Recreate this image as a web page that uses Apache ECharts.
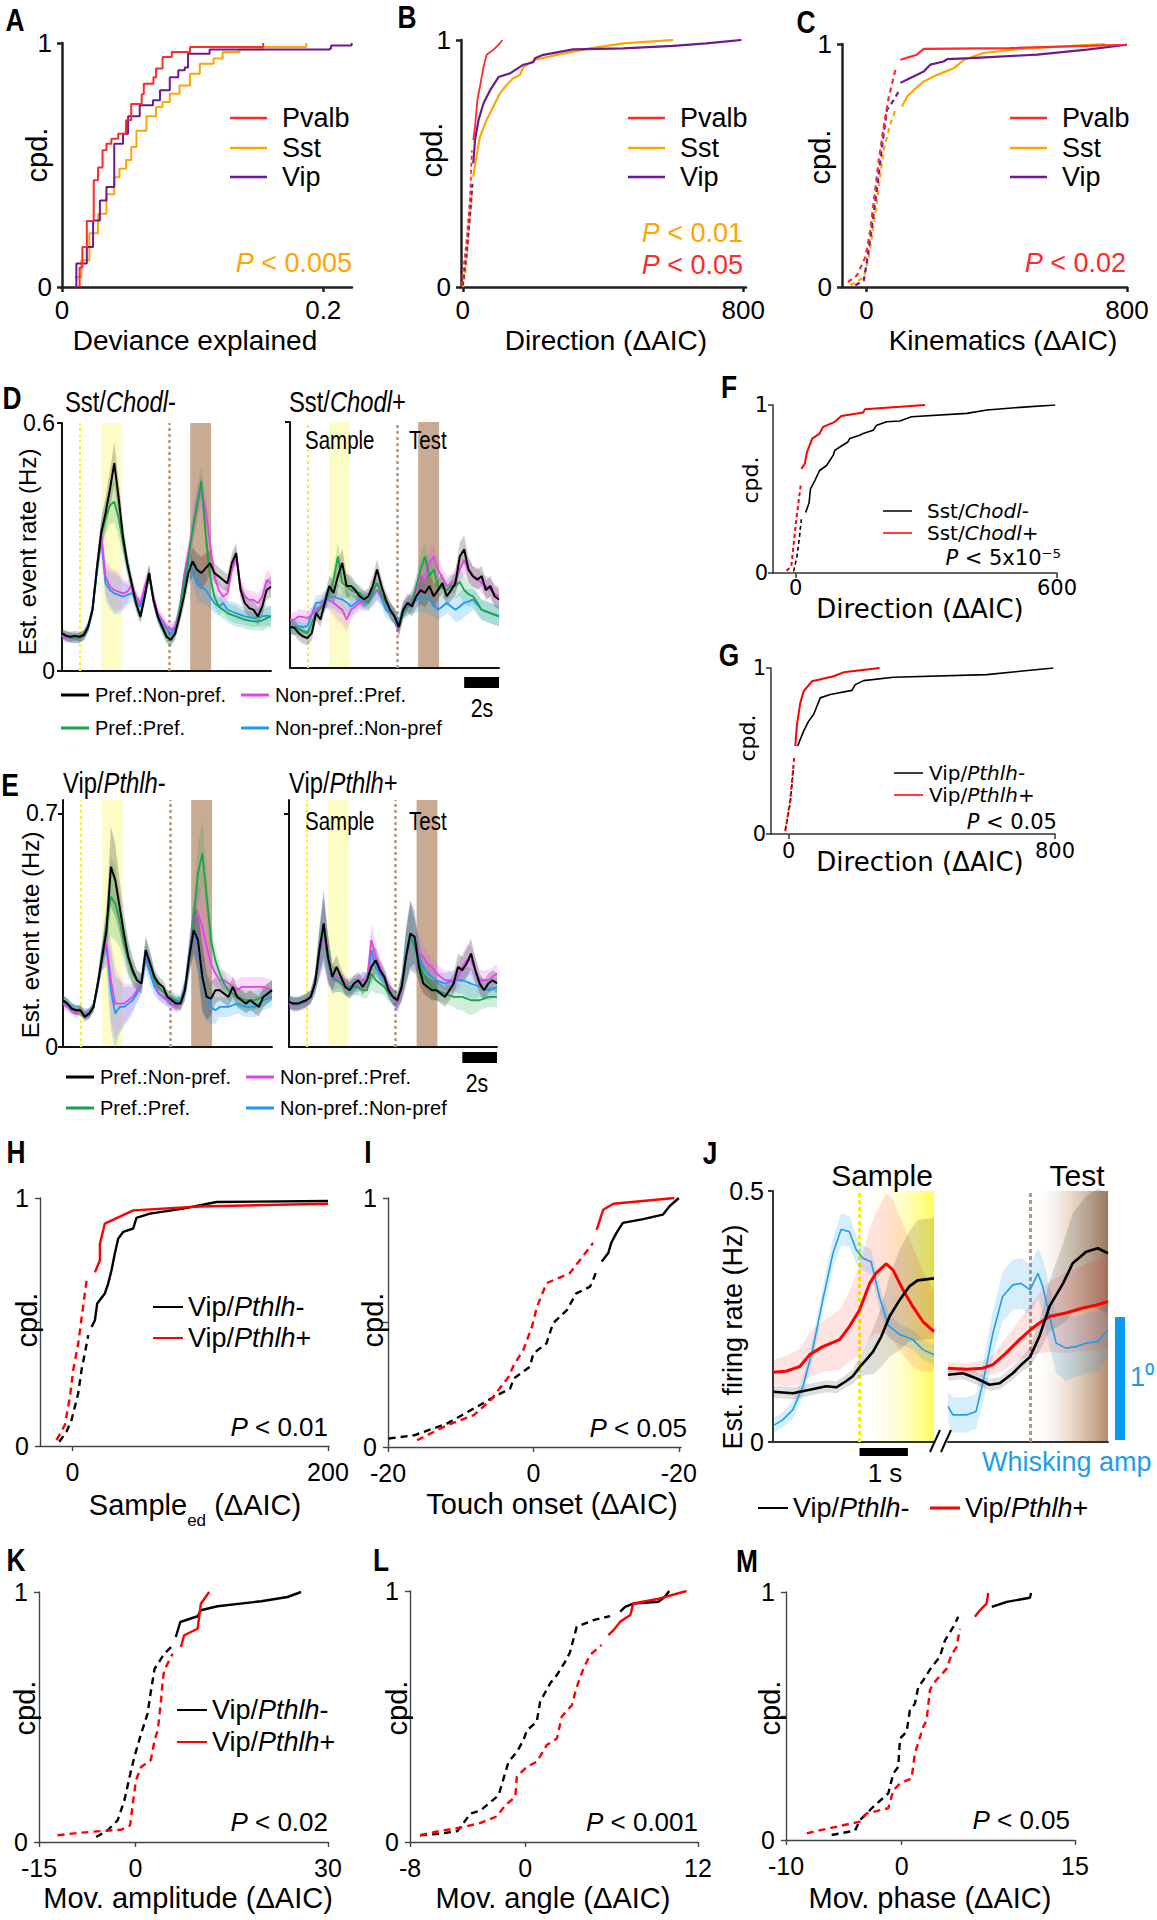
<!DOCTYPE html>
<html><head><meta charset="utf-8">
<script src="https://cdn.jsdelivr.net/npm/echarts@6/dist/echarts.min.js"></script>
<style>html,body{margin:0;padding:0;background:#fff}#c{width:1157px;height:1920px}</style>
</head><body><div id="c"></div>
<script>
// ================= DATA =================
// Panel A (Deviance explained CDFs)
const A_pvalb_x=[0.0135,0.0135,0.0156,0.019,0.0243,0.0276,0.031,0.034,0.0378,0.043,0.049,0.053,0.061,0.0626,0.07,0.072,0.077,0.084,0.098,0.153,0.154];
const A_pvalb_y=[0,0.08,0.164,0.27,0.437,0.49,0.56,0.587,0.608,0.628,0.683,0.75,0.79,0.833,0.86,0.895,0.943,0.963,0.984,0.984,1.0];
const A_sst_x=[0.0097,0.0148,0.021,0.0276,0.034,0.040,0.044,0.049,0.053,0.057,0.0646,0.072,0.077,0.0825,0.090,0.098,0.1055,0.116,0.123,0.136,0.154,0.187];
const A_sst_y=[0.04,0.11,0.22,0.30,0.38,0.45,0.485,0.52,0.574,0.64,0.70,0.738,0.758,0.792,0.826,0.874,0.915,0.936,0.963,0.973,0.984,1.0];
const A_vip_x=[0.0097,0.011,0.019,0.0238,0.029,0.034,0.040,0.0467,0.0506,0.0595,0.0697,0.075,0.0825,0.089,0.094,0.0965,0.113,0.205,0.206,0.2217];
const A_vip_y=[0,0.096,0.164,0.273,0.355,0.41,0.587,0.628,0.70,0.745,0.765,0.806,0.86,0.888,0.90,0.956,0.973,0.977,0.99,1.0];
// Panel B (Direction)
const B_pvalb_x=[-3,11,21,26,30,35,42,49,59,68,87,102,113];
const B_pvalb_y=[0.007,0.19,0.365,0.554,0.595,0.65,0.76,0.81,0.89,0.94,0.96,0.98,1.0];
const B_sst_x=[0,9.5,16,26,30,42,49,68,87,106,125,144,163,173,207,268,363,458,600];
const B_sst_y=[0,0.08,0.216,0.378,0.446,0.554,0.608,0.676,0.73,0.784,0.818,0.845,0.858,0.89,0.92,0.94,0.966,0.986,1.0];
const B_vip_x=[0,11,21,28,30,35,45,59,78,102,135,173,201,206,230,315,458,600,695,795];
const B_vip_y=[0.007,0.135,0.297,0.426,0.5,0.595,0.676,0.743,0.797,0.85,0.865,0.9,0.91,0.926,0.94,0.962,0.966,0.976,0.986,1.0];
const B_nDash=[4,4,4];
// Panel C (Kinematics)
const C_pvalb_x=[-57,-29,-3,12,23,38,53,69,89,104,155,176,442,800];
const C_pvalb_y=[0.02,0.048,0.124,0.234,0.358,0.523,0.66,0.784,0.894,0.935,0.956,0.98,0.983,0.997];
const C_sst_x=[-49,-8,7,23,38,53,74,89,109,125,145,176,217,268,299,360,473,733];
const C_sst_y=[0.007,0.04,0.124,0.26,0.413,0.564,0.674,0.729,0.743,0.784,0.81,0.846,0.873,0.9,0.935,0.963,0.98,1.0];
const C_vip_x=[-34,-8,2,17,33,48,63,84,99,104,135,176,196,237,248,319,524,677,800];
const C_vip_y=[0.007,0.027,0.11,0.248,0.413,0.578,0.729,0.77,0.805,0.84,0.86,0.887,0.915,0.928,0.938,0.942,0.956,0.977,0.997];
const C_nDash=[9,8,9];
// Panels D/E time course (s)
const T=[0,0.25,0.5,0.75,1,1.25,1.5,1.75,2,2.25,2.5,2.75,3,3.25,3.5,3.75,4,4.25,4.5,4.75,5,5.25,5.5,5.75,6,6.25,6.5,6.75,7,7.25,7.5,7.75,8,8.25,8.5,8.75,9,9.25,9.5,9.75,10,10.25,10.5,10.75,11,11.25,11.5,11.75,12];
const eventCue=1.0, sampleWin=[2.25,3.43], testCue=6.15, testWin=[7.36,8.56];
// D left: Sst/Chodl-
const DL_prefNon=[0.091,0.085,0.083,0.085,0.083,0.087,0.107,0.148,0.245,0.334,0.382,0.439,0.503,0.42,0.325,0.26,0.212,0.164,0.132,0.18,0.237,0.172,0.132,0.107,0.083,0.075,0.091,0.132,0.18,0.237,0.265,0.245,0.237,0.249,0.261,0.237,0.229,0.22,0.212,0.261,0.285,0.196,0.164,0.152,0.148,0.132,0.156,0.196,0.204];
const DL_prefPref=[0.09,0.085,0.08,0.08,0.08,0.085,0.105,0.145,0.24,0.33,0.37,0.40,0.41,0.37,0.31,0.255,0.21,0.165,0.13,0.18,0.235,0.17,0.13,0.105,0.085,0.078,0.092,0.148,0.212,0.27,0.34,0.40,0.46,0.33,0.23,0.18,0.156,0.148,0.14,0.136,0.132,0.128,0.124,0.122,0.12,0.12,0.122,0.128,0.132];
const DL_nonPref=[0.085,0.08,0.08,0.078,0.078,0.085,0.105,0.15,0.25,0.33,0.229,0.204,0.196,0.192,0.188,0.192,0.208,0.18,0.164,0.204,0.237,0.18,0.14,0.124,0.107,0.099,0.107,0.148,0.229,0.285,0.342,0.406,0.438,0.39,0.31,0.229,0.196,0.18,0.188,0.245,0.277,0.204,0.18,0.172,0.172,0.164,0.18,0.22,0.212];
const DL_nonNon=[0.088,0.082,0.082,0.08,0.08,0.087,0.107,0.15,0.25,0.32,0.212,0.196,0.188,0.184,0.18,0.184,0.188,0.172,0.156,0.196,0.237,0.172,0.132,0.115,0.103,0.09,0.107,0.148,0.204,0.26,0.245,0.212,0.204,0.196,0.18,0.164,0.156,0.164,0.148,0.144,0.14,0.136,0.132,0.13,0.128,0.13,0.132,0.134,0.132];
const DL_sem=[0.012,0.012,0.012,0.012,0.012,0.012,0.012,0.015,0.025,0.035,0.04,0.045,0.05,0.045,0.035,0.025,0.02,0.018,0.015,0.018,0.02,0.015,0.015,0.015,0.015,0.015,0.015,0.02,0.025,0.03,0.035,0.04,0.04,0.035,0.03,0.025,0.022,0.022,0.022,0.025,0.025,0.022,0.022,0.022,0.022,0.022,0.025,0.025,0.025];
// D right: Sst/Chodl+
const DR_prefNon=[0.10,0.098,0.085,0.077,0.073,0.085,0.134,0.118,0.159,0.2,0.183,0.224,0.256,0.2,0.2,0.19,0.175,0.167,0.175,0.2,0.24,0.2,0.167,0.142,0.126,0.1,0.142,0.159,0.15,0.175,0.19,0.183,0.2,0.175,0.19,0.207,0.175,0.19,0.207,0.272,0.289,0.24,0.224,0.215,0.224,0.19,0.2,0.175,0.167];
const DR_prefPref=[0.102,0.1,0.095,0.09,0.085,0.11,0.134,0.145,0.159,0.18,0.215,0.272,0.207,0.2,0.19,0.185,0.183,0.17,0.159,0.185,0.207,0.18,0.159,0.14,0.126,0.1,0.134,0.148,0.159,0.2,0.24,0.272,0.224,0.24,0.2,0.195,0.19,0.2,0.2,0.21,0.19,0.18,0.175,0.16,0.142,0.138,0.134,0.13,0.126];
const DR_nonPref=[0.118,0.118,0.126,0.124,0.122,0.13,0.142,0.15,0.167,0.165,0.159,0.15,0.142,0.118,0.142,0.15,0.159,0.162,0.167,0.18,0.191,0.175,0.159,0.14,0.126,0.093,0.142,0.155,0.167,0.19,0.224,0.224,0.256,0.272,0.24,0.22,0.2,0.205,0.215,0.24,0.264,0.24,0.224,0.22,0.207,0.2,0.191,0.18,0.175];
const DR_nonNon=[0.102,0.1,0.102,0.1,0.102,0.13,0.159,0.16,0.167,0.17,0.175,0.17,0.167,0.16,0.15,0.158,0.167,0.16,0.159,0.175,0.191,0.17,0.142,0.135,0.126,0.11,0.142,0.15,0.159,0.165,0.175,0.17,0.167,0.155,0.142,0.15,0.159,0.15,0.142,0.15,0.159,0.162,0.167,0.155,0.142,0.138,0.134,0.13,0.126];
const DR_sem=[0.018,0.018,0.018,0.018,0.018,0.018,0.018,0.018,0.02,0.025,0.03,0.035,0.035,0.03,0.025,0.02,0.02,0.02,0.02,0.025,0.025,0.02,0.02,0.02,0.02,0.02,0.02,0.022,0.025,0.03,0.035,0.035,0.035,0.03,0.025,0.025,0.025,0.025,0.03,0.035,0.035,0.03,0.025,0.025,0.025,0.025,0.025,0.025,0.025];
// E left: Vip/Pthlh-
const EL_prefNon=[0.14,0.13,0.115,0.11,0.11,0.09,0.10,0.12,0.19,0.27,0.35,0.54,0.50,0.42,0.34,0.27,0.23,0.20,0.19,0.29,0.25,0.21,0.19,0.18,0.15,0.14,0.13,0.13,0.17,0.27,0.35,0.32,0.21,0.15,0.145,0.17,0.17,0.16,0.15,0.18,0.15,0.14,0.13,0.14,0.13,0.12,0.15,0.16,0.17];
const EL_prefPref=[0.14,0.13,0.115,0.11,0.11,0.095,0.1,0.12,0.19,0.28,0.37,0.45,0.43,0.38,0.31,0.26,0.22,0.2,0.19,0.29,0.25,0.2,0.18,0.165,0.15,0.145,0.14,0.13,0.17,0.26,0.38,0.52,0.58,0.45,0.32,0.26,0.22,0.19,0.17,0.16,0.15,0.145,0.14,0.14,0.14,0.145,0.15,0.16,0.17];
const EL_nonPref=[0.13,0.12,0.11,0.1,0.11,0.1,0.1,0.12,0.19,0.27,0.31,0.2,0.13,0.13,0.13,0.14,0.15,0.17,0.19,0.28,0.25,0.2,0.16,0.15,0.14,0.13,0.12,0.13,0.17,0.27,0.38,0.40,0.36,0.3,0.25,0.22,0.2,0.2,0.19,0.18,0.17,0.18,0.18,0.18,0.18,0.18,0.18,0.175,0.17];
const EL_nonNon=[0.14,0.13,0.12,0.11,0.11,0.1,0.1,0.12,0.19,0.27,0.3,0.17,0.1,0.12,0.12,0.13,0.14,0.16,0.19,0.27,0.22,0.18,0.16,0.15,0.14,0.135,0.13,0.14,0.18,0.27,0.35,0.3,0.2,0.15,0.12,0.11,0.12,0.12,0.12,0.125,0.13,0.125,0.12,0.12,0.12,0.13,0.14,0.145,0.15];
const EL_sem=[0.015,0.015,0.015,0.015,0.015,0.015,0.015,0.015,0.025,0.04,0.06,0.12,0.11,0.08,0.06,0.05,0.04,0.03,0.03,0.04,0.035,0.025,0.02,0.02,0.02,0.02,0.02,0.02,0.03,0.05,0.07,0.09,0.1,0.07,0.05,0.04,0.03,0.03,0.03,0.03,0.03,0.03,0.03,0.03,0.03,0.03,0.03,0.03,0.03];
// E right: Vip/Pthlh+
const ER_prefNon=[0.135,0.13,0.13,0.135,0.14,0.15,0.19,0.29,0.37,0.27,0.21,0.24,0.21,0.18,0.17,0.19,0.2,0.18,0.2,0.24,0.26,0.23,0.21,0.17,0.15,0.14,0.18,0.27,0.34,0.33,0.24,0.19,0.18,0.17,0.17,0.16,0.15,0.17,0.19,0.24,0.23,0.25,0.28,0.23,0.19,0.17,0.19,0.2,0.19];
const ER_prefPref=[0.135,0.13,0.13,0.13,0.14,0.15,0.19,0.28,0.36,0.26,0.21,0.2,0.19,0.18,0.18,0.18,0.18,0.17,0.17,0.22,0.2,0.19,0.18,0.16,0.15,0.14,0.18,0.26,0.33,0.3,0.25,0.22,0.2,0.18,0.17,0.165,0.16,0.155,0.15,0.15,0.15,0.145,0.14,0.14,0.14,0.145,0.15,0.15,0.15];
const ER_nonPref=[0.13,0.125,0.125,0.13,0.135,0.15,0.19,0.27,0.34,0.26,0.2,0.21,0.2,0.19,0.18,0.19,0.19,0.2,0.2,0.32,0.27,0.24,0.21,0.18,0.15,0.13,0.17,0.27,0.33,0.3,0.28,0.27,0.25,0.24,0.22,0.21,0.2,0.2,0.19,0.21,0.24,0.26,0.26,0.23,0.2,0.2,0.2,0.21,0.22];
const ER_nonNon=[0.135,0.13,0.13,0.135,0.14,0.15,0.19,0.28,0.35,0.26,0.2,0.2,0.19,0.18,0.17,0.18,0.19,0.2,0.2,0.29,0.24,0.22,0.2,0.17,0.15,0.13,0.18,0.28,0.34,0.31,0.27,0.24,0.22,0.21,0.2,0.195,0.19,0.195,0.2,0.2,0.2,0.195,0.19,0.185,0.18,0.175,0.17,0.175,0.18];
const ER_sem=[0.02,0.02,0.02,0.02,0.02,0.02,0.03,0.07,0.1,0.07,0.04,0.035,0.025,0.025,0.025,0.025,0.025,0.025,0.025,0.05,0.04,0.03,0.025,0.025,0.025,0.025,0.04,0.08,0.1,0.08,0.05,0.03,0.03,0.03,0.03,0.03,0.03,0.03,0.03,0.04,0.04,0.045,0.045,0.04,0.03,0.03,0.03,0.03,0.03];
// Panel F
const F_neg_x=[-4.6,3,9,13,23,31,34,44,55,71,86,90,105,120,124,147,155,178,186,209,239,266,393,439,515,596];
const F_neg_y=[0.01,0.1,0.22,0.32,0.36,0.42,0.5,0.55,0.61,0.64,0.70,0.73,0.756,0.78,0.80,0.82,0.83,0.85,0.88,0.90,0.905,0.93,0.95,0.97,0.986,1.0];
const F_pos_x=[-21,-10,1.5,11.5,13,21,26,38,55,63,90,105,155,159,297];
const F_pos_y=[0.014,0.04,0.32,0.52,0.62,0.65,0.72,0.80,0.83,0.87,0.90,0.935,0.955,0.974,1.0];
const F_nDash=[4,4];
// Panel G
const G_neg_x=[-10,5,15,27,45,60,75,95,125,190,200,225,315,595,695,795];
const G_neg_y=[0.026,0.19,0.41,0.53,0.62,0.68,0.72,0.82,0.84,0.865,0.9,0.924,0.944,0.96,0.98,1.0];
const G_pos_x=[-10,5,17,20,25,35,45,70,135,165,273];
const G_pos_y=[0.016,0.21,0.47,0.53,0.66,0.79,0.86,0.92,0.95,0.974,1.0];
const G_nDash=[3,3];
// Panel H
const H_neg_x=[-10.4,-4.7,-0.8,4.4,7,9.6,12.3,14.9,17.5,19.3,25.3,27.9,30.5,33.1,35.7,39.6,47.5,50,60.5,86.6,112.7,200];
const H_neg_y=[0.017,0.058,0.105,0.212,0.306,0.373,0.447,0.48,0.507,0.575,0.615,0.655,0.709,0.776,0.836,0.863,0.877,0.92,0.937,0.957,0.984,0.988];
const H_pos_x=[-12.5,-6,-2,0.5,4.4,11,17.5,21.4,21.4,25.3,47.5,99.6,200];
const H_pos_y=[0.024,0.085,0.2,0.306,0.413,0.668,0.70,0.749,0.816,0.897,0.95,0.966,0.977];
const H_nDash=[7,6];
// Panel I
const I_neg_x=[-19.9,-16.4,-11.9,-7.8,-5.5,-3.2,-2.7,-0.5,0,1.8,2.7,4.6,5.9,7.8,8.4,8.7,9.4,10.3,10.7,11.4,12.3,15.1,17.8,18.7,20];
const I_neg_y=[0.034,0.047,0.094,0.161,0.2,0.235,0.275,0.322,0.376,0.416,0.497,0.55,0.617,0.644,0.685,0.711,0.745,0.779,0.819,0.859,0.9,0.915,0.933,0.966,1.0];
const I_pos_x=[-16,-11.9,-8.2,-5.9,-3.4,-2.7,-1.4,-0.2,0.5,1.8,5,8.2,8.7,9.6,11,19.4];
const I_pos_y=[0.027,0.087,0.128,0.188,0.282,0.329,0.389,0.483,0.564,0.658,0.698,0.819,0.872,0.953,0.977,1.0];
const I_nDash=[16,12];
const I_xTickVals=[-20,0,20], I_xTickText=['-20','0','-20'];
// Panel J (Est. firing rate around sample / test)
const JL_neg_t=[-1.79,-1.38,-1.03,-0.69,-0.48,-0.28,-0.14,0,0.14,0.28,0.45,0.62,0.83,1.03,1.2,1.54];
const JL_neg_v=[0.1,0.097,0.104,0.111,0.109,0.121,0.131,0.149,0.164,0.18,0.21,0.25,0.283,0.31,0.322,0.326];
const JL_neg_e=[0.012,0.012,0.012,0.012,0.012,0.013,0.015,0.02,0.03,0.045,0.06,0.08,0.1,0.11,0.12,0.12];
const JL_pos_t=[-1.79,-1.52,-1.24,-1.03,-0.76,-0.41,-0.21,0,0.21,0.34,0.55,0.69,0.9,1.1,1.31,1.54];
const JL_pos_v=[0.139,0.141,0.15,0.174,0.19,0.204,0.23,0.263,0.316,0.336,0.355,0.343,0.303,0.27,0.24,0.22];
const JL_pos_e=[0.025,0.03,0.035,0.045,0.05,0.06,0.07,0.09,0.11,0.12,0.14,0.14,0.13,0.12,0.1,0.08];
const JL_whisk_t=[-1.76,-1.59,-1.38,-1.17,-0.97,-0.76,-0.55,-0.38,-0.21,-0.07,0.07,0.24,0.41,0.59,0.83,1.1,1.31,1.54];
const JL_whisk_v=[0.034,0.044,0.064,0.111,0.184,0.283,0.376,0.424,0.419,0.383,0.366,0.359,0.29,0.233,0.214,0.204,0.184,0.174];
const JL_whisk_e=[0.015,0.015,0.018,0.02,0.022,0.025,0.03,0.032,0.03,0.028,0.025,0.025,0.025,0.025,0.02,0.02,0.02,0.02];
const JR_neg_t=[-1.7,-1.39,-1.12,-0.84,-0.63,-0.36,-0.15,0,0.19,0.4,0.68,0.88,1.16,1.4,1.61];
const JR_neg_v=[0.134,0.137,0.127,0.114,0.117,0.137,0.157,0.17,0.21,0.27,0.316,0.356,0.379,0.386,0.376];
const JR_neg_e=[0.012,0.012,0.012,0.012,0.012,0.013,0.015,0.02,0.03,0.05,0.08,0.1,0.11,0.12,0.12];
const JR_pos_t=[-1.7,-1.32,-0.98,-0.77,-0.5,-0.22,0,0.19,0.4,0.74,1.09,1.37,1.61];
const JR_pos_v=[0.147,0.145,0.147,0.154,0.177,0.204,0.223,0.237,0.25,0.257,0.267,0.273,0.28];
const JR_pos_e=[0.012,0.012,0.015,0.02,0.03,0.04,0.05,0.06,0.07,0.08,0.085,0.09,0.09];
const JR_whisk_t=[-1.7,-1.6,-1.32,-1.12,-0.98,-0.77,-0.57,-0.36,-0.19,0,0.16,0.26,0.4,0.54,0.74,0.95,1.16,1.4,1.61];
const JR_whisk_v=[0.071,0.054,0.054,0.061,0.117,0.217,0.29,0.313,0.316,0.303,0.336,0.31,0.25,0.197,0.187,0.19,0.197,0.2,0.223];
const JR_whisk_e=[0.03,0.035,0.035,0.035,0.04,0.045,0.05,0.05,0.05,0.05,0.05,0.055,0.06,0.06,0.065,0.06,0.06,0.06,0.05];
// Panel K
const K_neg_x=[-6.1,-4.3,-2.75,-1.7,-0.9,-0.16,0.9,1.9,2.4,3,4.5,6.1,6.3,7,9.7,10.2,12.8,19.6,23.7,25.8];
const K_neg_y=[0.02,0.047,0.087,0.167,0.26,0.34,0.433,0.513,0.6,0.693,0.753,0.793,0.82,0.88,0.903,0.927,0.943,0.963,0.98,1.0];
const K_pos_x=[-12.1,-9,-5.3,-2.2,-0.8,-0.4,0.1,0.9,2.4,3,3.5,4,4.3,4.5,5.8,7.1,7.6,9.7,10.2,11.5];
const K_pos_y=[0.027,0.036,0.044,0.049,0.067,0.153,0.247,0.3,0.327,0.407,0.447,0.567,0.653,0.687,0.753,0.78,0.827,0.853,0.953,1.0];
const K_nDash=[12,15];
// Panel L
const L_neg_x=[-7.3,-5.9,-4.7,-3.8,-3.1,-1.85,-1.16,-0.58,-0.12,0.12,0.8,1.04,1.73,2.2,2.77,3.1,3.58,4.74,5.9,6.6,6.94,7.5,9.25,9.7,10];
const L_neg_y=[0.027,0.033,0.044,0.113,0.126,0.186,0.319,0.359,0.406,0.445,0.479,0.559,0.632,0.665,0.718,0.754,0.858,0.884,0.9,0.918,0.937,0.95,0.957,0.977,1.0];
const L_pos_x=[-7.3,-5.9,-4.5,-3.1,-1.97,-1.39,-0.69,-0.58,0.12,0.8,1.5,2.2,2.54,3.24,3.58,4.05,4.5,5.3,5.78,6.13,6.6,7.3,7.5,9.1,11.2];
const L_pos_y=[0.027,0.044,0.057,0.076,0.102,0.146,0.18,0.26,0.3,0.319,0.386,0.412,0.5,0.545,0.618,0.691,0.745,0.785,0.824,0.844,0.878,0.904,0.95,0.967,1.0];
const L_nDash=[19,18];
// Panel M
const M_neg_x=[-6.05,-4.03,-3.6,-2.45,-1.15,-0.72,-0.29,-0.14,0.43,0.72,1.15,1.44,1.87,2.6,3.3,3.75,4.47,4.9,7.8,9.1,11.1,11.2];
const M_neg_y=[0.02,0.038,0.08,0.134,0.188,0.268,0.295,0.409,0.436,0.523,0.55,0.617,0.644,0.698,0.738,0.805,0.859,0.9,0.94,0.96,0.977,0.996];
const M_pos_x=[-8.2,-5.9,-3.6,-3.03,-1.15,-0.72,-0.14,0.86,1.15,1.87,2.16,2.45,2.74,3.9,4.3,4.76,5.04,6.34,6.77,7.35,7.5];
const M_pos_y=[0.027,0.051,0.074,0.107,0.128,0.2,0.228,0.248,0.349,0.456,0.483,0.604,0.631,0.691,0.745,0.779,0.852,0.9,0.926,0.953,0.996];
const M_nDash=[18,17];

// ================= BUILD =================
const FS='"Liberation Sans", Arial, sans-serif';
const FD='"DejaVu Sans", Verdana, sans-serif';
const C_PV='#ff2a2a', C_SST='#ffa500', C_VIP='#6a1b8f';
const C_K='#000', C_G='#18a54a', C_MG='#e543ea', C_BL='#1b9cf2', C_RED='#ff0000';

const grids=[], xAxes=[], yAxes=[], series=[], legends=[];
function panel(p){
  const i=grids.length;
  grids.push({left:p.l, top:p.t, width:p.w, height:p.h, containLabel:false, outerBoundsMode:'none'});
  const ls={color:p.ac||'#222', width:p.aw||2};
  const lab=(show,vals,fmt,m)=>({show:!!show, customValues:vals||[], formatter:fmt, margin:m, color:'#000', fontFamily:p.font, fontSize:p.fs});
  xAxes.push({gridIndex:i, type:'value', min:p.xr[0], max:p.xr[1],
    axisLine:{show:p.xLine!==false, onZero:false, lineStyle:ls},
    axisTick:{show:!!p.xt, customValues:p.xt||[], length:5, lineStyle:ls},
    axisLabel:lab(p.xl,p.xl,p.xf,p.xm==null?10:p.xm), splitLine:{show:false}, axisPointer:{show:false}});
  yAxes.push({gridIndex:i, type:'value', min:p.yr[0], max:p.yr[1],
    axisLine:{show:p.yLine!==false, onZero:false, lineStyle:ls},
    axisTick:{show:!!p.yt, customValues:p.yt||[], length:5, lineStyle:ls},
    axisLabel:lab(p.yl,p.yl,p.yf,p.ym==null?10:p.ym), splitLine:{show:false}, axisPointer:{show:false}});
  return i;
}
function cdf(gi,name,xs,ys,nDash,color,width,dash,step){
  const pts=xs.map((x,k)=>[x,ys[k]]);
  const base={type:'line',name,xAxisIndex:gi,yAxisIndex:gi,showSymbol:false,symbol:'none',silent:true,z:3,itemStyle:{color},emphasis:{disabled:true},animation:false};
  if(nDash>0) series.push(Object.assign({},base,{data:pts.slice(0,nDash),lineStyle:{color,width,type:dash}}));
  series.push(Object.assign({},base,{data:pts.slice(nDash),lineStyle:{color,width,type:'solid'},step:step||false}));
}
function band(gi,t,v,e,fill){
  series.push({type:'custom',xAxisIndex:gi,yAxisIndex:gi,silent:true,z:2,animation:false,
    data:t.map((x,k)=>[x,v[k]]),
    renderItem:(params,api)=>{
      if(params.dataIndex!==0) return null;
      const up=[],lo=[];
      for(let k=0;k<t.length;k++){up.push(api.coord([t[k],v[k]+e[k]]));lo.push(api.coord([t[k],v[k]-e[k]]));}
      return {type:'polygon',shape:{points:up.concat(lo.reverse())},style:{fill,stroke:null}};
    }});
}
function trace(gi,name,t,v,color,width){
  series.push({type:'line',name,xAxisIndex:gi,yAxisIndex:gi,data:t.map((x,k)=>[x,v[k]]),showSymbol:false,symbol:'none',
    lineStyle:{color,width},itemStyle:{color},z:3,silent:true,emphasis:{disabled:true},animation:false});
}
function events(gi,lines,areas){
  series.push({type:'line',xAxisIndex:gi,yAxisIndex:gi,data:[],silent:true,z:1,animation:false,
    markLine:{silent:true,z:1,symbol:['none','none'],label:{show:false},animation:false,
      data:lines.map(l=>({xAxis:l.x,lineStyle:{color:l.c,width:l.w,type:l.type}}))},
    markArea:{silent:true,z:0,animation:false,label:{show:false},
      data:areas.map(a=>[{xAxis:a.x0,itemStyle:{color:a.c,opacity:1}},{xAxis:a.x1}])}});
}
function leg(name,left,cy,w,h,gap,font,fs){
  legends.push({data:[name],left,top:cy-fs/2,padding:0,icon:'rect',itemWidth:w,itemHeight:h,selectedMode:false,
    itemStyle:{borderWidth:0},
    formatter:(n)=>n.replace(/(Chodl|Pthlh)/,'{i|$1}'),
    textStyle:{color:'#000',fontFamily:font,fontSize:fs,padding:[0,0,0,Math.max(gap-5,0)],
      rich:{i:{fontStyle:'italic',fontFamily:font,fontSize:fs,color:'#000'}}}});
}

// ---- A
const gA=panel({l:62,t:43,w:290,h:244,xr:[0,0.222],yr:[0,1],xt:[0,0.2],xl:[0,0.2],yt:[0,1],yl:[0,1],font:FS,fs:26,ac:'#222',aw:2.5});
cdf(gA,'Sst',A_sst_x,A_sst_y,0,C_SST,2,null,'end');
cdf(gA,'Vip',A_vip_x,A_vip_y,0,C_VIP,2,null,'end');
cdf(gA,'Pvalb',A_pvalb_x,A_pvalb_y,0,C_PV,2,null,'end');
// ---- B
const gB=panel({l:461,t:40,w:285,h:247,xr:[-5,808],yr:[0,1],xt:[0,800],xl:[0,800],yt:[0,1],yl:[0,1],font:FS,fs:26,ac:'#222',aw:2.5});
cdf(gB,'Sst',B_sst_x,B_sst_y,B_nDash[1],C_SST,2.2,[4,3]);
cdf(gB,'Vip',B_vip_x,B_vip_y,B_nDash[2],C_VIP,2.2,[4,3]);
cdf(gB,'Pvalb',B_pvalb_x,B_pvalb_y,B_nDash[0],C_PV,1.8,[4,3]);
// ---- C
const gC=panel({l:842,t:44,w:285,h:243,xr:[-75,800],yr:[0,1],xt:[0,800],xl:[0,800],yt:[0,1],yl:[0,1],font:FS,fs:26,ac:'#222',aw:2.5});
cdf(gC,'Sst',C_sst_x,C_sst_y,C_nDash[1],C_SST,2.2,[5,4]);
cdf(gC,'Vip',C_vip_x,C_vip_y,C_nDash[2],C_VIP,2.2,[5,4]);
cdf(gC,'Pvalb',C_pvalb_x,C_pvalb_y,C_nDash[0],C_PV,2.2,[5,4]);
// ---- D / E
const evLines=[{x:eventCue,c:'#f4f13a',w:2.2,type:[3,3]},{x:testCue,c:'#b8977c',w:2.5,type:[3,3]}];
const evAreas=[{x0:sampleWin[0],x1:sampleWin[1],c:'#fcfcc6'},{x0:testWin[0],x1:testWin[1],c:'#c9aa93'}];
function tracePanel(gi,k,g,m,b,e){
  events(gi,evLines,evAreas);
  band(gi,T,b,e,'rgba(27,156,242,0.22)');
  band(gi,T,m,e,'rgba(229,67,234,0.2)');
  band(gi,T,g,e,'rgba(24,165,74,0.2)');
  band(gi,T,k,e,'rgba(0,0,0,0.2)');
  trace(gi,'Non-pref.:Non-pref',T,b,C_BL,1.8);
  trace(gi,'Non-pref.:Pref.',T,m,C_MG,1.8);
  trace(gi,'Pref.:Pref.',T,g,C_G,1.8);
  trace(gi,'Pref.:Non-pref.',T,k,C_K,2);
}
const gDL=panel({l:62,t:423,w:209,h:248,xr:[0,12],yr:[0,0.6],yt:[0,0.6],yl:[0,0.6],font:FS,fs:23,ac:'#111',aw:2,ym:7});
tracePanel(gDL,DL_prefNon,DL_prefPref,DL_nonPref,DL_nonNon,DL_sem);
const gDR=panel({l:290,t:422,w:209,h:246,xr:[0,12],yr:[0,0.6],yt:[0.6],font:FS,fs:23,ac:'#111',aw:2});
tracePanel(gDR,DR_prefNon,DR_prefPref,DR_nonPref,DR_nonNon,DR_sem);
const gEL=panel({l:63,t:800,w:209,h:247,xr:[0,12],yr:[0,0.74],yt:[0,0.7],yl:[0,0.7],font:FS,fs:23,ac:'#111',aw:2,ym:5});
tracePanel(gEL,EL_prefNon,EL_prefPref,EL_nonPref,EL_nonNon,EL_sem);
const gER=panel({l:289,t:800,w:208,h:247,xr:[0,12],yr:[0,0.74],yt:[0.7],font:FS,fs:23,ac:'#111',aw:2});
tracePanel(gER,ER_prefNon,ER_prefPref,ER_nonPref,ER_nonNon,ER_sem);
// ---- F
const gF=panel({l:773,t:405,w:284,h:168,xr:[-52,600],yr:[0,1],xt:[0,600],xl:[0,600],yt:[0,1],yl:[0,1],font:FD,fs:21,ac:'#333',aw:1.5,xm:4,ym:5});
cdf(gF,'Sst/Chodl-',F_neg_x,F_neg_y,F_nDash[0],'#000',1.6,[4,3]);
cdf(gF,'Sst/Chodl+',F_pos_x,F_pos_y,F_nDash[1],C_RED,2,[4,3]);
// ---- G
const gG=panel({l:771,t:668,w:284,h:166,xr:[-53,800],yr:[0,1],xt:[0,800],xl:[0,800],yt:[0,1],yl:[0,1],font:FD,fs:21,ac:'#333',aw:1.5,xm:6,ym:5});
cdf(gG,'Vip/Pthlh-',G_neg_x,G_neg_y,G_nDash[0],'#000',1.6,[4,3]);
cdf(gG,'Vip/Pthlh+',G_pos_x,G_pos_y,G_nDash[1],C_RED,2,[4,3]);
// ---- H
const hm={yr:[0,1],yt:[0,0.5,1],yl:[0,1],font:FS,fs:25,ac:'#444',aw:1.4,xm:13,ym:11};
const gH=panel(Object.assign({l:40,t:1198,w:289,h:248,xr:[-25.5,200.8],xt:[0,200],xl:[0,200]},hm));
cdf(gH,'Vip/Pthlh-',H_neg_x,H_neg_y,H_nDash[0],'#000',2.4,[7,5]);
cdf(gH,'Vip/Pthlh+',H_pos_x,H_pos_y,H_nDash[1],C_RED,2.4,[7,5]);
// ---- I
const gI=panel(Object.assign({l:388,t:1198,w:293,h:249,xr:[-20,20.3],xt:I_xTickVals,xl:I_xTickVals,
  xf:(v)=>{const k=I_xTickVals.indexOf(v);return k<0?'':I_xTickText[k];}},hm));
cdf(gI,'Vip/Pthlh-',I_neg_x,I_neg_y,I_nDash[0],'#000',2.4,[7,5]);
cdf(gI,'Vip/Pthlh+',I_pos_x,I_pos_y,I_nDash[1],C_RED,2.4,[7,5]);
// ---- J
const gJL=panel({l:773,t:1191,w:161,h:251,xr:[-1.79,1.54],yr:[0,0.5],yt:[0,0.5],yl:[0,0.5],font:FS,fs:25,ac:'#333',aw:2,ym:9});
const gJR=panel({l:948,t:1191,w:160,h:251,xr:[-1.7,1.61],yr:[0,0.5],yLine:false,font:FS,fs:25,ac:'#333',aw:2});
events(gJL,[{x:0,c:'#f5f000',w:3,type:[4,3]}],[{x0:0,x1:1.54,c:{type:'linear',x:0,y:0,x2:1,y2:0,colorStops:[{offset:0,color:'rgba(255,255,255,0)'},{offset:0.45,color:'rgba(255,252,205,0.7)'},{offset:1,color:'rgba(255,255,90,1)'}]}}]);
events(gJR,[{x:0,c:'#b8977c',w:3,type:[4,3]}],[{x0:0,x1:1.61,c:{type:'linear',x:0,y:0,x2:1,y2:0,colorStops:[{offset:0,color:'rgba(255,255,255,0)'},{offset:0.45,color:'rgba(232,214,196,0.7)'},{offset:1,color:'rgba(178,138,106,1)'}]}}]);
band(gJL,JL_whisk_t,JL_whisk_v,JL_whisk_e,'rgba(30,160,240,0.18)');
band(gJL,JL_pos_t,JL_pos_v,JL_pos_e,'rgba(255,60,60,0.15)');
band(gJL,JL_neg_t,JL_neg_v,JL_neg_e,'rgba(0,0,0,0.13)');
band(gJR,JR_whisk_t,JR_whisk_v,JR_whisk_e,'rgba(30,160,240,0.18)');
band(gJR,JR_pos_t,JR_pos_v,JR_pos_e,'rgba(255,60,60,0.15)');
band(gJR,JR_neg_t,JR_neg_v,JR_neg_e,'rgba(0,0,0,0.13)');
trace(gJL,'Whisking amplitude',JL_whisk_t,JL_whisk_v,'#1e9ee8',1.6);
trace(gJL,'Vip/Pthlh+',JL_pos_t,JL_pos_v,C_RED,3);
trace(gJL,'Vip/Pthlh-',JL_neg_t,JL_neg_v,'#000',2.6);
trace(gJR,'Whisking amplitude',JR_whisk_t,JR_whisk_v,'#1e9ee8',1.6);
trace(gJR,'Vip/Pthlh+',JR_pos_t,JR_pos_v,C_RED,3);
trace(gJR,'Vip/Pthlh-',JR_neg_t,JR_neg_v,'#000',2.6);
// ---- K, L, M
const gK=panel(Object.assign({l:39,t:1592,w:289,h:250,xr:[-15,30],xt:[-15,0,30],xl:[-15,0,30]},hm));
cdf(gK,'Vip/Pthlh-',K_neg_x,K_neg_y,K_nDash[0],'#000',2.4,[7,5]);
cdf(gK,'Vip/Pthlh+',K_pos_x,K_pos_y,K_nDash[1],C_RED,2.4,[7,5]);
const gL=panel(Object.assign({l:410,t:1591,w:288,h:251,xr:[-8,12],xt:[-8,0,12],xl:[-8,0,12]},hm));
cdf(gL,'Vip/Pthlh-',L_neg_x,L_neg_y,L_nDash[0],'#000',2.4,[7,5]);
cdf(gL,'Vip/Pthlh+',L_pos_x,L_pos_y,L_nDash[1],C_RED,2.4,[7,5]);
const gM=panel(Object.assign({l:786,t:1592,w:289,h:248,xr:[-10,15],xt:[-10,0,15],xl:[-10,0,15]},hm));
cdf(gM,'Vip/Pthlh-',M_neg_x,M_neg_y,M_nDash[0],'#000',2.4,[7,5]);
cdf(gM,'Vip/Pthlh+',M_pos_x,M_pos_y,M_nDash[1],C_RED,2.4,[7,5]);

// ---- Legends
[['Pvalb',118],['Sst',148],['Vip',177]].forEach(([n,y])=>{
  leg(n,230,y,37,2.5,15,FS,27); leg(n,628,y,37,2.5,15,FS,27); leg(n,1010,y,37,2.5,15,FS,27);
});
leg('Pref.:Non-pref.',61,695,28,3,6,FS,20); leg('Non-pref.:Pref.',241,695,28,3,6,FS,20);
leg('Pref.:Pref.',61,728,28,3,6,FS,20); leg('Non-pref.:Non-pref',241,728,28,3,6,FS,20);
leg('Pref.:Non-pref.',66,1077,28,3,6,FS,20); leg('Non-pref.:Pref.',246,1077,28,3,6,FS,20);
leg('Pref.:Pref.',66,1108,28,3,6,FS,20); leg('Non-pref.:Non-pref',246,1108,28,3,6,FS,20);
leg('Sst/Chodl-',883,511,29,1.5,15,FD,20); leg('Sst/Chodl+',883,533,29,1.5,15,FD,20);
leg('Vip/Pthlh-',894,773,29,1.5,6,FD,20); leg('Vip/Pthlh+',894,795,29,1.5,6,FD,20);
leg('Vip/Pthlh-',153,1307,30,2,5,FS,27); leg('Vip/Pthlh+',153,1338,30,2,5,FS,27);
leg('Vip/Pthlh-',758,1508,30,2,5,FS,27); leg('Vip/Pthlh+',930,1508,30,3,5,FS,27);
leg('Vip/Pthlh-',177,1710,30,2,5,FS,27); leg('Vip/Pthlh+',177,1742,30,2,5,FS,27);

const chart=echarts.init(document.getElementById('c'),null,{renderer:'svg',width:1157,height:1920});
chart.setOption({animation:false,backgroundColor:'#fff',grid:grids,xAxis:xAxes,yAxis:yAxes,series,legend:legends,tooltip:{show:false}});

// ---- Text & annotations
const G=[];
function txt(text,x,y,o){
  o=o||{};
  const fam=o.font||FS, fs=o.fs||26, col=o.color||'#000';
  G.push({type:'text',x,y,rotation:o.rot||0,scaleX:o.sx||1,silent:true,z:50,
    style:{text,fill:col,fontFamily:fam,fontSize:fs,fontWeight:o.bold?'bold':'normal',
      align:o.align||'center',verticalAlign:'middle',
      rich:{i:{fontStyle:'italic',fontFamily:fam,fontSize:fs,fill:col}}}});
}
const R=Math.PI/2, NX=0.82;
[['A',15,20],['B',407,17],['C',806,22],['D',12,398],['E',10,785],['F',729,387],['G',729,655],['H',16,1152],['I',368,1152],['J',710,1153],['K',16,1560],['L',381,1560],['M',747,1561]]
  .forEach(([s,x,y])=>txt(s,x,y,{fs:31,bold:true,sx:0.85}));
// A-C
txt('Deviance explained',195,340,{fs:28}); txt('Direction (ΔAIC)',606,340,{fs:28}); txt('Kinematics (ΔAIC)',1003,340,{fs:28});
txt('cpd.',37,155,{fs:29,rot:R}); txt('cpd.',432,150,{fs:29,rot:R}); txt('cpd.',820,157,{fs:29,rot:R});
txt('{i|P} < 0.005',352,263,{fs:27,color:C_SST,align:'right'});
txt('{i|P} < 0.01',743,233,{fs:27,color:C_SST,align:'right'});
txt('{i|P} < 0.05',743,265,{fs:27,color:C_PV,align:'right'});
txt('{i|P} < 0.02',1126,263,{fs:27,color:C_PV,align:'right'});
// D / E
txt('Sst/{i|Chodl}-',65,402,{fs:29,align:'left',sx:NX}); txt('Sst/{i|Chodl}+',289,402,{fs:29,align:'left',sx:NX});
txt('Vip/{i|Pthlh}-',63,783,{fs:29,align:'left',sx:NX}); txt('Vip/{i|Pthlh}+',289,783,{fs:29,align:'left',sx:NX});
txt('Sample',305,440,{fs:25,align:'left',sx:NX}); txt('Test',409,440,{fs:25,align:'left',sx:NX});
txt('Sample',305,821,{fs:25,align:'left',sx:NX}); txt('Test',409,821,{fs:25,align:'left',sx:NX});
txt('Est. event rate (Hz)',27,552,{fs:24,rot:R}); txt('Est. event rate (Hz)',30,935,{fs:24,rot:R});
txt('2s',482,708,{fs:26,sx:NX}); txt('2s',477,1083,{fs:26,sx:NX});
// F / G
txt('cpd.',750,480,{font:FD,fs:22,rot:R}); txt('cpd.',747,738,{font:FD,fs:22,rot:R});
txt('Direction (ΔAIC)',920,609,{font:FD,fs:26}); txt('Direction (ΔAIC)',920,862,{font:FD,fs:26});
txt('{i|P} < 5x10⁻⁵',1061,558,{font:FD,fs:21,align:'right'});
txt('{i|P} < 0.05',1057,822,{font:FD,fs:21,align:'right'});
// H - M
[[27,1320],[373,1320],[25,1708],[397,1708],[770,1708]].forEach(([x,y])=>txt('cpd.',x,y,{fs:29,rot:R}));
txt('Touch onset (ΔAIC)',552,1504,{fs:29});
txt('Mov. amplitude (ΔAIC)',188,1898,{fs:29}); txt('Mov. angle (ΔAIC)',553,1898,{fs:29}); txt('Mov. phase (ΔAIC)',930,1898,{fs:29});
txt('{i|P} < 0.01',328,1427,{fs:26,align:'right'}); txt('{i|P} < 0.05',687,1428,{fs:26,align:'right'});
txt('{i|P} < 0.02',328,1822,{fs:26,align:'right'}); txt('{i|P} < 0.001',698,1822,{fs:26,align:'right'}); txt('{i|P} < 0.05',1070,1820,{fs:26,align:'right'});
// H axis title with subscript
(function(){
  const ctx=document.createElement('canvas').getContext('2d');
  const w=(s,f)=>{ctx.font=f+'px "Liberation Sans", Arial, sans-serif';return ctx.measureText(s).width;};
  const w1=w('Sample',29), w2=w('ed',17), w3=w(' (ΔAIC)',29);
  const x0=195-(w1+w2+w3)/2;
  txt('Sample',x0,1505,{fs:29,align:'left'}); txt('ed',x0+w1,1520,{fs:17,align:'left'}); txt(' (ΔAIC)',x0+w1+w2,1505,{fs:29,align:'left'});
})();
// J
txt('Est. firing rate (Hz)',733,1337,{fs:27,rot:R});
txt('Sample',882,1175,{fs:30}); txt('Test',1077,1175,{fs:30});
txt('1 s',885,1473,{fs:26});
txt('Whisking amp',982,1462,{fs:27,color:'#1e9ee8',align:'left'});
txt('1⁰',1130,1377,{fs:27,color:'#1e9ee8',align:'left'});
G.push({type:'line',silent:true,z:50,shape:{x1:930,y1:1452,x2:940,y2:1430},style:{stroke:'#000',lineWidth:2}});
G.push({type:'line',silent:true,z:50,shape:{x1:941,y1:1452,x2:951,y2:1430},style:{stroke:'#000',lineWidth:2}});
G.push({type:'rect',silent:true,z:50,shape:{x:1115,y:1317,width:10,height:123},style:{fill:'#0a9af0'}});
// scale bars positioned through the axes
function bar(gi,t0,t1,y,h){
  const a=chart.convertToPixel({gridIndex:gi},[t0,0]), b=chart.convertToPixel({gridIndex:gi},[t1,0]);
  G.push({type:'rect',silent:true,z:50,shape:{x:a[0],y,width:b[0]-a[0],height:h},style:{fill:'#000'}});
}
bar(gDR,10,12,677,11); bar(gER,10,12,1052,11); bar(gJL,0,1,1448,8);
chart.setOption({graphic:G});
</script></body></html>
